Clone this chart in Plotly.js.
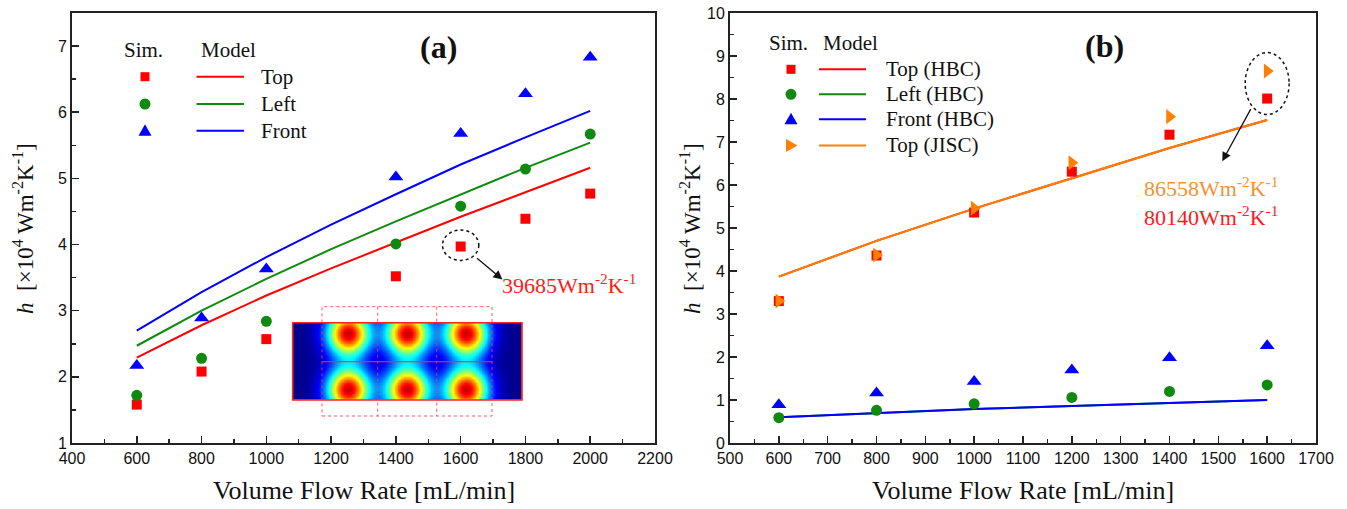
<!DOCTYPE html>
<html>
<head>
<meta charset="utf-8">
<script src="https://cdn.plot.ly/plotly-3.0.1.min.js"></script>
<style>html,body{margin:0;padding:0;background:#fff;}#chart{width:1347px;height:509px;}</style>
</head>
<body>
<div id="chart"></div>
<script>
// ---------- Panel (a) data ----------
const flowSimA   = [600, 800, 1000, 1400, 1600, 1800, 2000];
const simTopA    = [1.58, 2.08, 2.57, 3.52, 3.97, 4.39, 4.77];
const simLeftA   = [1.72, 2.28, 2.84, 4.01, 4.58, 5.14, 5.67];
const simFrontA  = [2.17, 2.89, 3.63, 5.02, 5.68, 6.28, 6.83];
const flowModelA = [600, 800, 1000, 1200, 1400, 1600, 1800, 2000];
const modelTopA  = [2.29, 2.78, 3.23, 3.64, 4.03, 4.42, 4.79, 5.16];
const modelLeftA = [2.47, 3.00, 3.48, 3.93, 4.35, 4.76, 5.16, 5.54];
const modelFrontA= [2.70, 3.28, 3.81, 4.30, 4.76, 5.21, 5.62, 6.02];

// ---------- Panel (b) data ----------
const flowB         = [600, 800, 1000, 1200, 1400, 1600];
const simTopHBC     = [3.30, 4.36, 5.36, 6.31, 7.17, 8.01];
const simLeftHBC    = [0.59, 0.76, 0.91, 1.06, 1.20, 1.35];
const simFrontHBC   = [0.89, 1.16, 1.43, 1.70, 1.98, 2.26];
const simTopJISC    = [3.30, 4.37, 5.46, 6.52, 7.59, 8.65];
const modelTopHBC   = [3.87, 4.70, 5.45, 6.16, 6.86, 7.51];
const modelLeftHBC  = [0.60, 0.70, 0.79, 0.86, 0.93, 1.00];
const modelFrontHBC = [0.60, 0.70, 0.79, 0.86, 0.93, 1.00];
const modelTopJISC  = [3.87, 4.70, 5.45, 6.16, 6.86, 7.51];

// ---------- Labels ----------
const legendA = ['Top', 'Left', 'Front'];
const legendB = ['Top (HBC)', 'Left (HBC)', 'Front (HBC)', 'Top (JISC)'];
const noteA = '39685Wm<sup>-2</sup>K<sup>-1</sup>';
const noteB1 = '86558Wm<sup>-2</sup>K<sup>-1</sup>';
const noteB2 = '80140Wm<sup>-2</sup>K<sup>-1</sup>';
const xTitle = 'Volume Flow Rate [mL/min]';
const yTitle = '<i>h</i>  [×10<sup>4</sup> Wm<sup>-2</sup>K<sup>-1</sup>]';

// ---------- Inset (temperature field illustration) ----------
const spotX = [55, 114, 173];   // hot-spot centres within inset (px)
const spotY = [10.5, 66.5];
const insetW = 229, insetH = 77;
const jet = [[0, 'rgb(0,0,140)'], [0.125, 'rgb(0,0,255)'], [0.375, 'rgb(0,255,255)'],
             [0.625, 'rgb(255,255,0)'], [0.875, 'rgb(255,0,0)'], [1, 'rgb(128,0,0)']];

const RED = '#ff0000', GREEN = '#0f8a0f', BLUE = '#0000ff', ORANGE = '#ff8000';
const SERIF = 'Liberation Serif, Times New Roman, serif';
const SANS = 'Liberation Sans, Arial, sans-serif';

const W = 1347, H = 509;
const px = v => v / W;
const py = v => 1 - v / H;

function sim(x, y, xa, ya, sym, color, size) {
  return {x, y, xaxis: xa, yaxis: ya, type: 'scatter', mode: 'markers',
    marker: {symbol: sym, color, size, line: {width: 0}}, hoverinfo: 'skip'};
}
function model(x, y, xa, ya, color) {
  return {x, y, xaxis: xa, yaxis: ya, type: 'scatter', mode: 'lines',
    line: {color, width: 2}, hoverinfo: 'skip'};
}

// inset field
const hx = [], hy = [], hz = [];
for (let i = 0; i <= insetW; i += 1.5) hx.push(i);
for (let j = 0; j <= insetH; j += 1.5) hy.push(j);
for (const yy of hy) {
  const row = [];
  for (const xx of hx) {
    let s = 0;
    for (const cx of spotX) for (const cy of spotY) {
      const dx = xx - cx, dy = yy - cy;
      s += Math.exp(-(dx * dx) / (2 * 15 * 15) - (dy * dy) / (2 * 15.5 * 15.5));
    }
    row.push(s);
  }
  hz.push(row);
}

const traces = [
  model(flowModelA, modelTopA, 'x', 'y', RED),
  model(flowModelA, modelLeftA, 'x', 'y', GREEN),
  model(flowModelA, modelFrontA, 'x', 'y', BLUE),
  sim(flowSimA, simTopA, 'x', 'y', 'square', RED, 10),
  sim(flowSimA, simLeftA, 'x', 'y', 'circle', GREEN, 11),
  sim(flowSimA, simFrontA, 'x', 'y', 'triangle-up', BLUE, 13),

  model(flowB, modelTopHBC, 'x2', 'y2', RED),
  model(flowB, modelLeftHBC, 'x2', 'y2', GREEN),
  model(flowB, modelFrontHBC, 'x2', 'y2', BLUE),
  model(flowB, modelTopJISC, 'x2', 'y2', ORANGE),
  sim(flowB, simTopHBC, 'x2', 'y2', 'square', RED, 10),
  sim(flowB, simLeftHBC, 'x2', 'y2', 'circle', GREEN, 11),
  sim(flowB, simFrontHBC, 'x2', 'y2', 'triangle-up', BLUE, 13),
  sim(flowB, simTopJISC, 'x2', 'y2', 'triangle-right', ORANGE, 13),

  {type: 'heatmap', x: hx, y: hy, z: hz, xaxis: 'x3', yaxis: 'y3',
   colorscale: jet, zmin: 0, zmax: 1.08, zsmooth: 'best', showscale: false, hoverinfo: 'skip'}
];

function axisBase(extra) {
  return Object.assign({
    ticks: 'inside', ticklen: 7, tickwidth: 1.5, tickcolor: '#222',
    showline: true, linecolor: '#222', linewidth: 2, mirror: true,
    showgrid: false, zeroline: false, tickmode: 'linear',
    tickfont: {family: SANS, size: 16, color: '#111'},
  }, extra);
}

const layout = {
  width: W, height: H, margin: {l: 0, r: 0, t: 0, b: 0},
  paper_bgcolor: '#fff', plot_bgcolor: '#fff', showlegend: false,
  xaxis: axisBase({domain: [px(72), px(655)], range: [400, 2200], anchor: 'y', tick0: 400, dtick: 200,
    minor: {ticks: 'inside', dtick: 100, ticklen: 4, tickwidth: 1.5, tickcolor: '#222', showgrid: false}}),
  yaxis: axisBase({domain: [py(443), py(13)], range: [1, 7.5], anchor: 'x', tick0: 1, dtick: 1,
    minor: {ticks: 'inside', dtick: 0.5, ticklen: 4, tickwidth: 1.5, tickcolor: '#222', showgrid: false}}),
  xaxis2: axisBase({domain: [px(730), px(1316)], range: [500, 1700], anchor: 'y2', tick0: 500, dtick: 100,
    minor: {ticks: 'inside', dtick: 50, ticklen: 4, tickwidth: 1.5, tickcolor: '#222', showgrid: false}}),
  yaxis2: axisBase({domain: [py(443), py(13)], range: [0, 10], anchor: 'x2', tick0: 0, dtick: 1,
    minor: {ticks: 'inside', dtick: 0.5, ticklen: 4, tickwidth: 1.5, tickcolor: '#222', showgrid: false}}),
  xaxis3: {domain: [px(292.7), px(522)], range: [0, insetW], anchor: 'y3', visible: false, fixedrange: true},
  yaxis3: {domain: [py(400), py(322.7)], range: [insetH, 0], anchor: 'x3', visible: false, fixedrange: true},
  annotations: [],
  shapes: []
};

const A = layout.annotations, S = layout.shapes;
function txt(text, x, y, size, color, opts) {
  A.push(Object.assign({text, x: px(x), y: py(y), xref: 'paper', yref: 'paper', showarrow: false,
    font: {family: SERIF, size, color}, xanchor: 'center', yanchor: 'middle'}, opts || {}));
}
// axis titles
txt(xTitle, 363.5, 490, 26, '#111');
txt(xTitle, 1023, 490, 26, '#111');
txt(yTitle, 23, 229, 23, '#111', {textangle: -90});
txt(yTitle, 690, 229, 23, '#111', {textangle: -90});
// panel labels
txt('<b>(a)</b>', 438, 47, 32, '#111');
txt('<b>(b)</b>', 1104, 46, 32, '#111');

// custom legends
function legendMarker(sym, color, x, y) {
  const base = {xref: 'paper', yref: 'paper', xsizemode: 'pixel', ysizemode: 'pixel',
    xanchor: px(x), yanchor: py(y), fillcolor: color, line: {width: 0}};
  if (sym === 'square') S.push(Object.assign({type: 'rect', x0: -4.5, x1: 4.5, y0: -4.5, y1: 4.5}, base));
  else if (sym === 'circle') S.push(Object.assign({type: 'circle', x0: -5.5, x1: 5.5, y0: -5.5, y1: 5.5}, base));
  else if (sym === 'tri-up') S.push(Object.assign({type: 'path', path: 'M-6.5,-5 L6.5,-5 L0,6.5 Z'}, base));
  else if (sym === 'tri-right') S.push(Object.assign({type: 'path', path: 'M-5,-6.5 L-5,6.5 L6.5,0 Z'}, base));
}
function legendLine(color, x0, x1, y) {
  S.push({type: 'line', xref: 'paper', yref: 'paper', x0: px(x0), x1: px(x1), y0: py(y), y1: py(y),
    line: {color, width: 2}});
}
txt('Sim.', 143, 50, 21, '#111');
txt('Model', 228, 50, 21, '#111');
const symsA = ['square', 'circle', 'tri-up'], colA = [RED, GREEN, BLUE], rowA = [76.7, 104, 130.7];
legendA.forEach((name, i) => {
  legendMarker(symsA[i], colA[i], 145, rowA[i]);
  legendLine(colA[i], 196.5, 244, rowA[i]);
  txt(name, 259, rowA[i], 21, '#111', {xanchor: 'left'});
});
txt('Sim.', 788, 43.5, 21, '#111');
txt('Model', 851, 43.5, 21, '#111');
const symsB = ['square', 'circle', 'tri-up', 'tri-right'], colB = [RED, GREEN, BLUE, ORANGE],
      rowB = [69.3, 94.3, 119.3, 145.5];
legendB.forEach((name, i) => {
  legendMarker(symsB[i], colB[i], 791, rowB[i]);
  legendLine(colB[i], 819, 866, rowB[i]);
  txt(name, 884, rowB[i], 21, '#111', {xanchor: 'left'});
});

// callouts panel (a)
S.push({type: 'circle', xref: 'x', yref: 'y', x0: 1544, x1: 1656, y0: 3.76, y1: 4.22,
  line: {color: '#111', width: 1.5, dash: 'dot'}});
A.push({x: 1729, y: 3.47, ax: 1646, ay: 3.81, xref: 'x', yref: 'y', axref: 'x', ayref: 'y',
  text: '', showarrow: true, arrowhead: 2, arrowsize: 1.4, arrowwidth: 1.3, arrowcolor: '#111'});
A.push({text: noteA, x: 1721, y: 3.40, xref: 'x', yref: 'y', showarrow: false, xanchor: 'left', yanchor: 'middle',
  font: {family: SERIF, size: 22, color: '#ff1a1a'}});

// callouts panel (b)
S.push({type: 'circle', xref: 'x2', yref: 'y2', x0: 1555, x1: 1645, y0: 7.64, y1: 9.08,
  line: {color: '#111', width: 1.5, dash: 'dot'}});
A.push({x: 1508, y: 6.55, ax: 1568, ay: 7.80, xref: 'x2', yref: 'y2', axref: 'x2', ayref: 'y2',
  text: '', showarrow: true, arrowhead: 2, arrowsize: 1.4, arrowwidth: 1.3, arrowcolor: '#111'});
A.push({text: noteB1, x: 1344, y: 5.95, xref: 'x2', yref: 'y2', showarrow: false, xanchor: 'left', yanchor: 'middle',
  font: {family: SERIF, size: 22, color: '#f5922f'}});
A.push({text: noteB2, x: 1344, y: 5.27, xref: 'x2', yref: 'y2', showarrow: false, xanchor: 'left', yanchor: 'middle',
  font: {family: SERIF, size: 22, color: '#ff1a1a'}});

// inset decorations (paper coords)
function prect(x0, y0, x1, y1, line) {
  S.push({type: 'rect', xref: 'paper', yref: 'paper', x0: px(x0), x1: px(x1), y0: py(y1), y1: py(y0), line, layer: 'above'});
}
function pline(x0, y0, x1, y1, line) {
  S.push({type: 'line', xref: 'paper', yref: 'paper', x0: px(x0), x1: px(x1), y0: py(y0), y1: py(y1), line, layer: 'above'});
}
const dotted = {color: 'rgba(255,60,60,0.85)', width: 1, dash: 'dot'};
prect(322, 306.7, 492, 416, dotted);
pline(377.7, 306.7, 377.7, 416, dotted);
pline(436.7, 306.7, 436.7, 416, dotted);
pline(322, 361.7, 492, 361.7, {color: 'rgba(255,40,40,0.9)', width: 1.2});
prect(292.7, 322.7, 522, 400, {color: '#ff2020', width: 1.6});

Plotly.newPlot('chart', traces, layout, {staticPlot: true, displayModeBar: false});
</script>
</body>
</html>
